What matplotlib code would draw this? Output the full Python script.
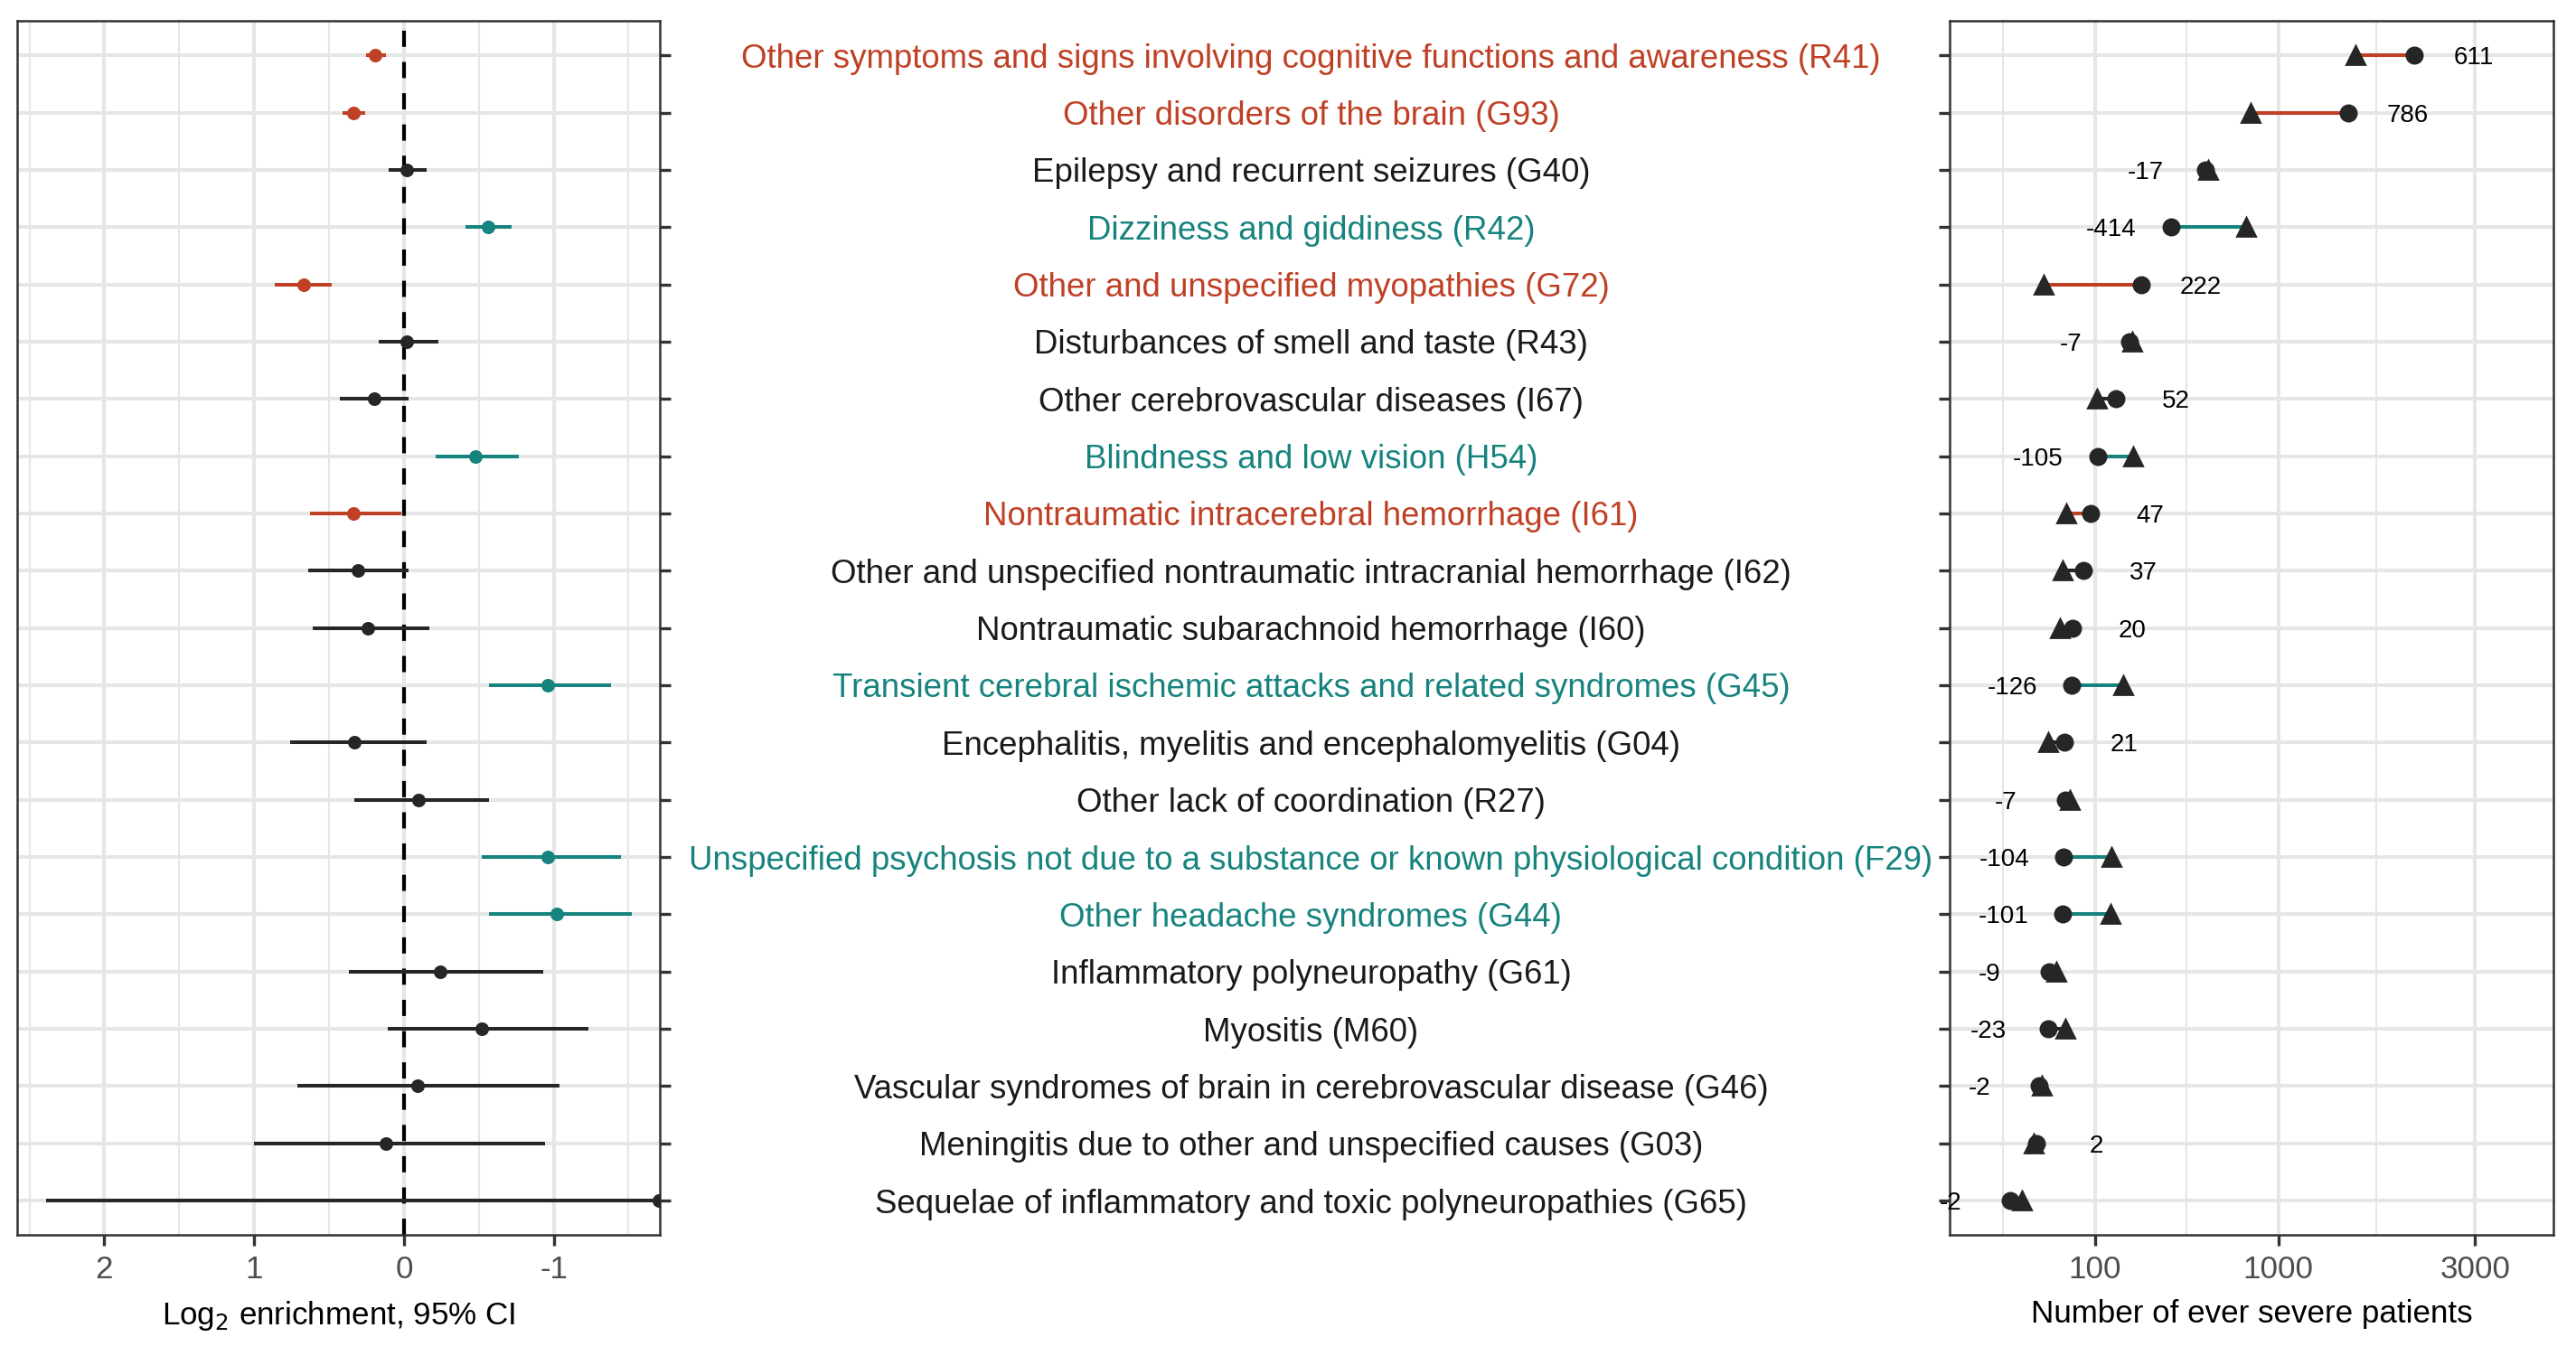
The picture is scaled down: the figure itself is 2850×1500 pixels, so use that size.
import matplotlib
matplotlib.use("Agg")
import matplotlib.pyplot as plt
import numpy as np

# ==============================================================================
# DATA (top to bottom)
# ==============================================================================
labels = [
    "Other symptoms and signs involving cognitive functions and awareness (R41)",
    "Other disorders of the brain (G93)",
    "Epilepsy and recurrent seizures (G40)",
    "Dizziness and giddiness (R42)",
    "Other and unspecified myopathies (G72)",
    "Disturbances of smell and taste (R43)",
    "Other cerebrovascular diseases (I67)",
    "Blindness and low vision (H54)",
    "Nontraumatic intracerebral hemorrhage (I61)",
    "Other and unspecified nontraumatic intracranial hemorrhage (I62)",
    "Nontraumatic subarachnoid hemorrhage (I60)",
    "Transient cerebral ischemic attacks and related syndromes (G45)",
    "Encephalitis, myelitis and encephalomyelitis (G04)",
    "Other lack of coordination (R27)",
    "Unspecified psychosis not due to a substance or known physiological condition (F29)",
    "Other headache syndromes (G44)",
    "Inflammatory polyneuropathy (G61)",
    "Myositis (M60)",
    "Vascular syndromes of brain in cerebrovascular disease (G46)",
    "Meningitis due to other and unspecified causes (G03)",
    "Sequelae of inflammatory and toxic polyneuropathies (G65)",
]
group = ["up", "up", "ns", "down", "up", "ns", "ns", "down", "up", "ns", "ns",
         "down", "ns", "ns", "down", "down", "ns", "ns", "ns", "ns", "ns"]

log2_est = [0.19, 0.34, -0.02, -0.56, 0.67, -0.02, 0.20, -0.48, 0.34, 0.31, 0.24,
            -0.96, 0.33, -0.10, -0.96, -1.02, -0.24, -0.52, -0.09, 0.12, -1.70]
ci_low = [0.25, 0.41, 0.10, -0.41, 0.86, 0.17, 0.43, -0.21, 0.63, 0.64, 0.61,
          -0.57, 0.76, 0.33, -0.52, -0.57, 0.37, 0.11, 0.71, 1.00, 2.39]
ci_high = [0.12, 0.26, -0.15, -0.72, 0.48, -0.23, -0.03, -0.77, 0.02, -0.03, -0.17,
           -1.38, -0.15, -0.57, -1.45, -1.52, -0.93, -1.23, -1.04, -0.94, -1.80]

n_circle = [2266, 1590, 530, 360, 238, 200, 157, 107, 91, 76, 55,
            53, 41, 43, 40, 39, 21, 20, 12, 10, 0]
n_triangle = [1655, 804, 547, 774, 16, 207, 105, 212, 44, 39, 35,
              179, 20, 50, 144, 140, 30, 43, 14, 8, 2]

x_ticks_left = [2, 1, 0, -1]
x_ticks_right = [100, 1000, 3000]

# ==============================================================================
# STYLE
# ==============================================================================
plt.rcParams['font.family'] = ['Liberation Sans', 'DejaVu Sans']
plt.rcParams['axes.unicode_minus'] = False

COLORS = {"up": "#BF4024", "down": "#16837E", "ns": "#262626"}
GRID = "#E6E6E6"
BORDER = "#333333"

n = len(labels)
ypos = np.arange(n)[::-1] + 1  # first row at top


def style_axes(ax):
    for s in ax.spines.values():
        s.set_color(BORDER)
        s.set_linewidth(0.9)
    ax.tick_params(axis='both', which='major', length=4.3, width=1.2, color=BORDER,
                   labelsize=12.6, labelcolor="#4D4D4D")
    ax.tick_params(axis='both', which='minor', length=0)
    ax.grid(True, which='major', color=GRID, lw=1.45, zorder=0)
    ax.grid(True, which='minor', axis='x', color=GRID, lw=0.75, zorder=0)
    ax.set_axisbelow(True)
    ax.set_ylim(0.4, n + 0.6)
    ax.set_yticks(ypos)
    ax.set_yticklabels([])


fig = plt.figure(figsize=(14.25, 7.5), dpi=200)
top, bottom = 0.9845, 0.0893
x_left1, x_right0, x_right1 = 0.2560, 0.7568, 0.9912

# ==============================================================================
# LEFT: log2 enrichment forest plot
# ==============================================================================
axL = fig.add_axes([0.0068, bottom, x_left1 - 0.0068, top - bottom])
style_axes(axL)
for i in range(n):
    c = COLORS[group[i]]
    axL.plot([ci_low[i], ci_high[i]], [ypos[i], ypos[i]], color=c, lw=1.45,
             solid_capstyle='butt', zorder=3)
    axL.plot(log2_est[i], ypos[i], 'o', color=c, ms=4.4, zorder=4)
axL.axvline(0, color='black', lw=1.5, ls=(0, (4.3, 4)), zorder=2)
axL.set_xlim(2.58, -1.706)
axL.set_xticks(x_ticks_left)
axL.set_xticklabels([str(t) for t in x_ticks_left])
axL.set_xticks([2.5, 1.5, 0.5, -0.5, -1.5], minor=True)
axL.yaxis.tick_right()
axL.set_xlabel("Log$_2$ enrichment, 95% CI", fontsize=12.6, labelpad=6)

# ==============================================================================
# MIDDLE: disease names
# ==============================================================================
axM = fig.add_axes([x_left1, bottom, x_right0 - x_left1, top - bottom])
axM.set_ylim(0.4, n + 0.6)
axM.set_xlim(0, 1)
axM.axis('off')
for i in range(n):
    axM.text(0.505, ypos[i], labels[i], ha='center', va='center_baseline', fontsize=13.2,
             color=COLORS[group[i]] if group[i] != "ns" else "#1A1A1A")

# ==============================================================================
# RIGHT: number of ever severe patients (sqrt scale)
# ==============================================================================
def fwd(x):
    return np.sign(x) * np.sqrt(np.abs(x))


def inv(y):
    return np.sign(y) * y ** 2


axR = fig.add_axes([x_right0, bottom, x_right1 - x_right0, top - bottom])
axR.set_xscale('function', functions=(fwd, inv))
style_axes(axR)
for i in range(n):
    c = COLORS[group[i]]
    axR.plot([n_triangle[i], n_circle[i]], [ypos[i], ypos[i]], color=c, lw=1.45,
             solid_capstyle='butt', zorder=3)
    axR.plot(n_circle[i], ypos[i], 'o', color="#262626", ms=6.2, zorder=4)
    axR.plot(n_triangle[i], ypos[i], '^', color="#262626", ms=7.2, zorder=5)
    diff = n_circle[i] - n_triangle[i]
    off = 23.7 if diff > 0 else -23.7
    axR.annotate(str(diff), (n_circle[i], ypos[i]), xytext=(off, 0),
                 textcoords='offset points', ha='center', va='center_baseline',
                 fontsize=10, color='black', annotation_clip=False, zorder=6)
xmin_r, xmax_r = -50.4, 4096
axR.set_xlim(xmin_r, xmax_r)
axR.set_xticks(x_ticks_right)
axR.set_xticklabels([str(t) for t in x_ticks_right])
maj = [-135] + x_ticks_right + [5836]
minor = [inv((fwd(a) + fwd(b)) / 2) for a, b in zip(maj[:-1], maj[1:])]
axR.set_xticks([m for m in minor if xmin_r < m < xmax_r], minor=True)
axR.set_xlabel("Number of ever severe patients", fontsize=12.6, labelpad=6)

fig.savefig("out.png", dpi=200)
